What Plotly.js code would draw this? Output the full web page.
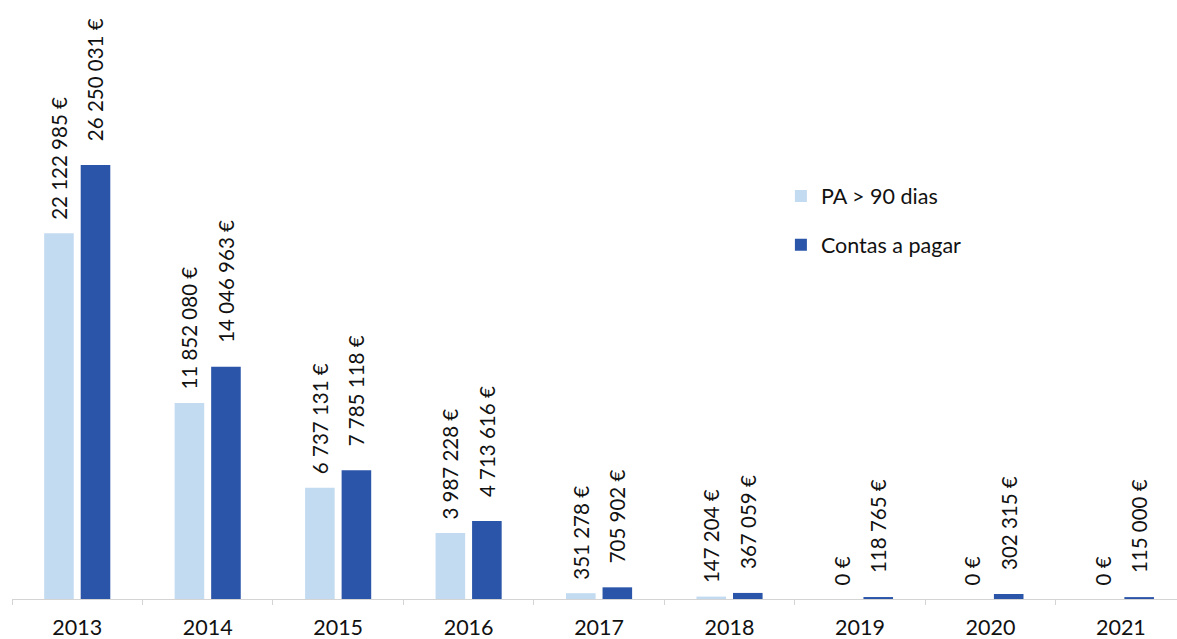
<!DOCTYPE html>
<html>
<head>
<meta charset="utf-8">
<script src="https://cdn.plot.ly/plotly-3.0.1.min.js"></script>
<style>html,body{margin:0;padding:0;background:#fff;}#chart{width:1177px;height:639px;}</style>
</head>
<body>
<div id="chart"></div>
<script>
var years = ["2013","2014","2015","2016","2017","2018","2019","2020","2021"];
var paOver90 = [22122985, 11852080, 6737131, 3987228, 351278, 147204, 0, 0, 0];
var contasPagar = [26250031, 14046963, 7785118, 4713616, 705902, 367059, 118765, 302315, 115000];
var seriesNames = ["PA > 90 dias", "Contas a pagar"];

function fmt(v){
  return String(v).replace(/\B(?=(\d{3})+(?!\d))/g, " ") + " €";
}
// leading non-breaking spaces keep the rotated labels clear of the bar tops
function pad(n){ return new Array(n + 1).join("\u00a0"); }

var fontFam = "Lato, 'Open Sans', sans-serif";
var labelFont = {family: fontFam, size: 20.5, color: "#111"};

var traces = [
  {
    type: "bar", name: seriesNames[0], x: years, y: paOver90,
    text: paOver90.map(function(v){ return pad(2) + fmt(v); }),
    textposition: "outside", textangle: -90,
    textfont: labelFont, constraintext: "none", cliponaxis: false,
    marker: {color: "#c3dbf1"}, legendgroup: "a", hoverinfo: "x+y"
  },
  {
    type: "bar", name: seriesNames[1], x: years, y: contasPagar,
    text: contasPagar.map(function(v){ return pad(4) + fmt(v); }),
    textposition: "outside", textangle: -90,
    textfont: labelFont, constraintext: "none", cliponaxis: false,
    marker: {color: "#2b55a9"}, legendgroup: "b", hoverinfo: "x+y"
  }
];

var layout = {
  width: 1177, height: 639,
  margin: {l: 12, r: 0, t: 0, b: 40},
  paper_bgcolor: "#fff", plot_bgcolor: "#fff",
  barmode: "group", bargap: 0.44, bargroupgap: 0.19,
  showlegend: true,
  legend: {
    x: 0.66, y: 0.632, xanchor: "left", yanchor: "middle",
    font: {family: fontFam, size: 21.5, color: "#111"},
    traceorder: "grouped", tracegroupgap: 18, itemwidth: 30
  },
  xaxis: {
    type: "category", range: [-0.5, 8.43],
    showline: true, linecolor: "#d4d4d4", linewidth: 1,
    ticks: "outside", tickson: "boundaries", ticklen: 5, tickcolor: "#d4d4d4",
    showgrid: false, zeroline: false, ticklabelstandoff: 9,
    tickfont: {family: fontFam, size: 21.5, color: "#111"}
  },
  yaxis: {
    range: [0, 36240000], visible: false, showgrid: false, zeroline: false
  }
};

Plotly.newPlot("chart", traces, layout, {displayModeBar: false, staticPlot: true});
</script>
</body>
</html>
